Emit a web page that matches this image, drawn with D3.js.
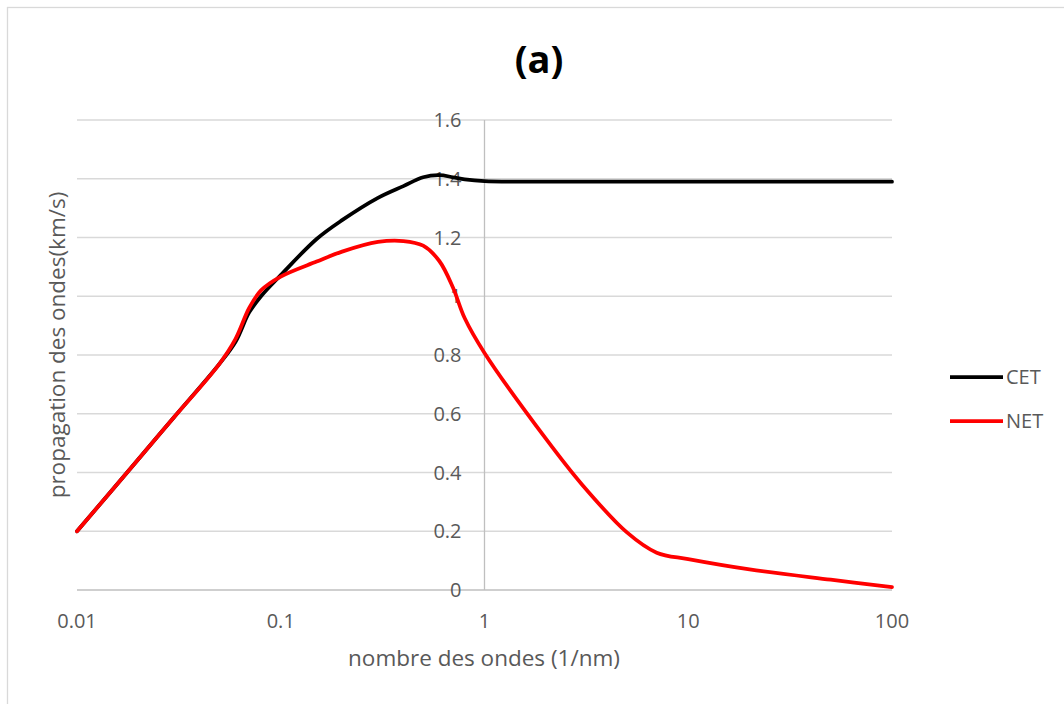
<!DOCTYPE html>
<html lang="fr">
<head>
<meta charset="UTF-8">
<title>(a) propagation des ondes</title>
<script src="https://d3js.org/d3.v7.min.js"></script>
<style>
  body { margin: 0; background: #fff; font-family: 'Open Sans', 'Noto Sans', sans-serif; }
  .grid line { stroke: #d9d9d9; stroke-width: 1.3; }
  .tick-label { fill: #595959; font-size: 20px; }
  .axis-title { fill: #595959; font-size: 22.5px; }
</style>
</head>
<body>
<div id="chart"></div>
<script>
// wave number (1/nm)
const waveNumbers = [0.01, 0.02, 0.03, 0.05, 0.06, 0.07, 0.08, 0.1, 0.15, 0.2, 0.3, 0.4, 0.5, 0.6, 0.7, 0.8, 1, 2, 3, 5, 7, 10, 20, 50, 100];
// propagation speed (km/s)
const cetValues = [0.2, 0.445, 0.589, 0.77, 0.845, 0.945, 1.0, 1.072, 1.195, 1.259, 1.335, 1.375, 1.405, 1.412, 1.405, 1.398, 1.392, 1.39, 1.39, 1.39, 1.39, 1.39, 1.39, 1.39, 1.39];
const netValues = [0.2, 0.445, 0.589, 0.77, 0.855, 0.96, 1.02, 1.067, 1.118, 1.152, 1.185, 1.188, 1.172, 1.12, 1.03, 0.925, 0.807, 0.515, 0.36, 0.196, 0.127, 0.105, 0.07, 0.035, 0.01];
const seriesNames = ["CET", "NET"];
const seriesColors = ["#000000", "#ff0000"];
const xTicks = [0.01, 0.1, 1, 10, 100];
const yTicks = [0, 0.2, 0.4, 0.6, 0.8, 1, 1.2, 1.4, 1.6];

const W = 1064, H = 704;
const plot = { left: 77, right: 892, top: 120, bottom: 590 };

const svg = d3.select("#chart").append("svg")
  .attr("width", W).attr("height", H);

// chart frame
svg.append("rect")
  .attr("x", 7.5).attr("y", 7.5)
  .attr("width", 1100).attr("height", 800)
  .attr("fill", "none").attr("stroke", "#d9d9d9").attr("stroke-width", 1.3);

const x = d3.scaleLog().domain([0.01, 100]).range([plot.left, plot.right]);
const y = d3.scaleLinear().domain([0, 1.6]).range([plot.bottom, plot.top]);

// horizontal gridlines
svg.append("g").attr("class", "grid")
  .selectAll("line").data(yTicks.filter(d => d > 0)).join("line")
  .attr("x1", plot.left).attr("x2", plot.right)
  .attr("y1", d => y(d)).attr("y2", d => y(d));

// x axis (at y = 0)
svg.append("line")
  .attr("x1", plot.left).attr("x2", plot.right)
  .attr("y1", y(0)).attr("y2", y(0))
  .attr("stroke", "#bfbfbf").attr("stroke-width", 1.3);

// y axis crosses at x = 1
svg.append("line")
  .attr("x1", x(1)).attr("x2", x(1))
  .attr("y1", y(0)).attr("y2", y(1.6))
  .attr("stroke", "#bfbfbf").attr("stroke-width", 1.3);

// y tick labels
svg.append("g").selectAll("text").data(yTicks).join("text")
  .attr("class", "tick-label")
  .attr("x", x(1) - 23)
  .attr("y", d => y(d) + 7)
  .attr("text-anchor", "end")
  .text(d => d3.format("")(d));

// x tick labels
svg.append("g").selectAll("text").data(xTicks).join("text")
  .attr("class", "tick-label")
  .attr("x", d => x(d))
  .attr("y", 628)
  .attr("text-anchor", "middle")
  .text(d => d);

// series
const line = d3.line()
  .x((d, i) => x(waveNumbers[i]))
  .y(d => y(d))
  .curve(d3.curveCatmullRom.alpha(0.5));

[cetValues, netValues].forEach((vals, i) => {
  svg.append("path")
    .datum(vals)
    .attr("d", line)
    .attr("fill", "none")
    .attr("stroke", seriesColors[i])
    .attr("stroke-width", 3.75)
    .attr("stroke-linecap", "round");
});

// title
svg.append("text")
  .attr("x", 539).attr("y", 73)
  .attr("text-anchor", "middle")
  .style("font-size", "38px").style("font-weight", "bold")
  .text("(a)");

// axis titles
svg.append("text").attr("class", "axis-title")
  .attr("x", 484).attr("y", 666)
  .attr("text-anchor", "middle")
  .text("nombre des ondes (1/nm)");

svg.append("text").attr("class", "axis-title")
  .attr("transform", "translate(65,345) rotate(-90)")
  .attr("text-anchor", "middle")
  .text("propagation des ondes(km/s)");

// legend
const legend = svg.append("g").selectAll("g").data(seriesNames).join("g")
  .attr("transform", (d, i) => `translate(950,${377 + i * 44})`);
legend.append("line")
  .attr("x1", 0).attr("x2", 53)
  .attr("stroke", (d, i) => seriesColors[i])
  .attr("stroke-width", 3.75);
legend.append("text")
  .attr("class", "tick-label")
  .attr("x", 56).attr("y", 7)
  .text(d => d);
</script>
</body>
</html>
